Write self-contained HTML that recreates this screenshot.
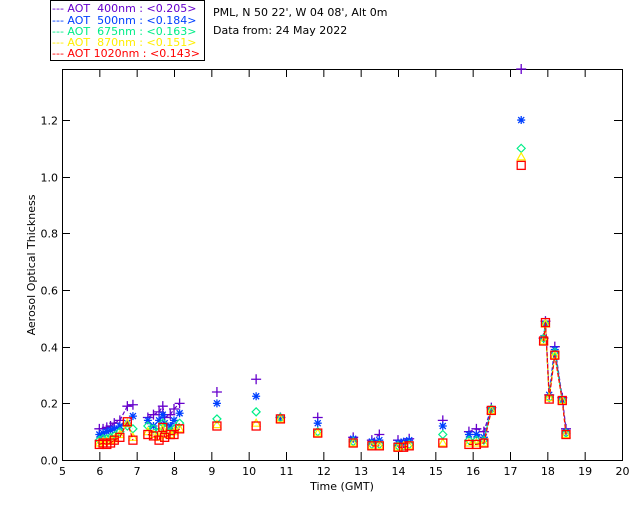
<!DOCTYPE html>
<html><head><meta charset="utf-8"><style>
body{margin:0;background:#fff;}
svg text{font-family:"DejaVu Sans","Liberation Sans",sans-serif;font-size:11px;}
</style></head><body>
<svg id="c" width="640" height="512">
<rect x="50.5" y="0.5" width="154" height="60" fill="#fff" stroke="#000"/>
<g font-size="11">
<text x="52" y="12" fill="#6600cc">--- AOT &#160;400nm : &lt;0.205&gt;</text>
<text x="52" y="24" fill="#0040ff">--- AOT &#160;500nm : &lt;0.184&gt;</text>
<text x="52" y="35" fill="#00ee88">--- AOT &#160;675nm : &lt;0.163&gt;</text>
<text x="52" y="46" fill="#ffee00">--- AOT &#160;870nm : &lt;0.151&gt;</text>
<text x="52" y="57" fill="#ff0000">--- AOT 1020nm : &lt;0.143&gt;</text>
</g>
<text x="213" y="16">PML, N 50 22', W 04 08', Alt 0m</text>
<text x="213" y="34">Data from: 24 May 2022</text>
<text transform="translate(35,265) rotate(-90)" text-anchor="middle" font-size="10">Aerosol Optical Thickness</text>
<text x="342" y="490" text-anchor="middle">Time (GMT)</text>
<g id="axes"></g>
<g id="marks"></g>
</svg>
<script>
const times=[6.0,6.1,6.2,6.3,6.4,6.55,6.75,6.9, 7.3,7.45,7.6,7.7,7.75,7.9,8.0,8.15, 9.15,10.2,10.85,11.85,12.8,13.3,13.5,14.0,14.15,14.3,15.2,15.9,16.1,16.3,16.5,17.3,17.9,17.95,18.05,18.2,18.4,18.5];
const aot400=[0.11,0.11,0.115,0.12,0.13,0.14,0.19,0.195, 0.15,0.16,0.17,0.19,0.15,0.16,0.18,0.20, 0.24,0.285,0.15,0.15,0.08,0.07,0.09,0.07,0.06,0.075,0.14,0.10,0.11,0.10,0.185,1.38,0.43,0.49,0.23,0.40,0.22,0.11];
const aot500=[0.09,0.095,0.10,0.105,0.11,0.12,0.13,0.155, 0.14,0.12,0.14,0.16,0.13,0.12,0.14,0.165, 0.20,0.225,0.15,0.13,0.075,0.065,0.07,0.06,0.065,0.07,0.12,0.09,0.09,0.08,0.18,1.20,0.43,0.48,0.23,0.39,0.21,0.10];
const aot675=[0.07,0.075,0.075,0.08,0.085,0.10,0.12,0.11, 0.12,0.11,0.10,0.13,0.11,0.10,0.11,0.13, 0.145,0.17,0.15,0.10,0.065,0.055,0.055,0.05,0.05,0.055,0.09,0.07,0.07,0.07,0.18,1.10,0.43,0.48,0.22,0.38,0.21,0.095];
const aot870=[0.06,0.065,0.065,0.07,0.075,0.09,0.13,0.08, 0.10,0.09,0.08,0.11,0.09,0.09,0.10,0.11, 0.125,0.13,0.145,0.095,0.06,0.05,0.05,0.045,0.05,0.05,0.06,0.06,0.06,0.06,0.175,1.07,0.42,0.48,0.22,0.37,0.21,0.09];
const aot1020=[0.055,0.06,0.055,0.06,0.07,0.08,0.135,0.07, 0.09,0.085,0.07,0.115,0.08,0.09,0.09,0.11, 0.12,0.12,0.145,0.095,0.06,0.05,0.05,0.045,0.045,0.05,0.06,0.055,0.055,0.06,0.175,1.04,0.42,0.485,0.215,0.37,0.21,0.09];
const xTicks=[5,6,7,8,9,10,11,12,13,14,15,16,17,18,19,20];
const yTicks=[0,0.2,0.4,0.6,0.8,1.0,1.2];
const L=62,R=622,T=69,B=460,ymax=(B-T)/283.3;
const xs=t=>L+(t-5)/15*(R-L);
const ys=v=>B-v/ymax*(B-T);
const NS='http://www.w3.org/2000/svg';
function mk(tag,attrs,parent){const e=document.createElementNS(NS,tag);for(const k in attrs)e.setAttribute(k,attrs[k]);parent.appendChild(e);return e;}
const ax=document.getElementById('axes'),mg=document.getElementById('marks');
const frame=mk('rect',{x:L+.5,y:T+.5,width:R-L,height:B-T,fill:'none',stroke:'#000'},ax);


xTicks.forEach(t=>{const x=xs(t)+.5;
 const l=mk('line',{x1:x,x2:x,y1:B,y2:B-8,stroke:'#000'},ax);
 
 
 mk('line',{x1:x,x2:x,y1:T,y2:T+8,stroke:'#000'},ax);
 const tx=mk('text',{x:x,y:B+15,'text-anchor':'middle'},ax);tx.textContent=t;
 
 });
yTicks.forEach(v=>{const y=Math.round(ys(v))+.5;
 const l=mk('line',{x1:L,x2:L+8,y1:y,y2:y,stroke:'#000'},ax);
 
 
 mk('line',{x1:R-8,x2:R,y1:y,y2:y,stroke:'#000'},ax);
 const tx=mk('text',{x:L-4,y:y+4,'text-anchor':'end'},ax);tx.textContent=v.toFixed(1);
 
 });
const series=[[aot400,'#6600cc','plus'],[aot500,'#0040ff','star'],[aot675,'#00ee88','diamond'],[aot870,'#ffee00','tri'],[aot1020,'#ff0000','square']];
series.forEach(([vals,col,m],si)=>{
 for(let i=1;i<times.length;i++){if(times[i]-times[i-1]<=0.36){
  const ln=mk('line',{x1:xs(times[i-1]),y1:Math.max(T,ys(vals[i-1])),x2:xs(times[i]),y2:Math.max(T,ys(vals[i])),stroke:col,'stroke-width':1.2,'stroke-dasharray':'4,2'},mg);
  
  }}
 times.forEach((t,i)=>{const x=xs(t),y=ys(vals[i]);if(y<T)return;let e;
  if(m==='plus')e=mk('path',{d:`M${x-5},${y}H${x+5}M${x},${y-5}V${y+5}`,stroke:col,'stroke-width':1.3,fill:'none'},mg);
  else if(m==='star')e=mk('path',{d:`M${x-4},${y}H${x+4}M${x},${y-4}V${y+4}M${x-3},${y-3}L${x+3},${y+3}M${x-3},${y+3}L${x+3},${y-3}`,stroke:col,'stroke-width':1.3,fill:'none'},mg);
  else if(m==='diamond')e=mk('path',{d:`M${x},${y-4}L${x+4},${y}L${x},${y+4}L${x-4},${y}Z`,stroke:col,'stroke-width':1.2,fill:'none'},mg);
  else if(m==='tri')e=mk('path',{d:`M${x},${y-4}L${x+4},${y+3}L${x-4},${y+3}Z`,stroke:col,'stroke-width':1.2,fill:'none'},mg);
  else e=mk('rect',{x:x-4,y:y-4,width:8,height:8,stroke:col,'stroke-width':1.3,fill:'none'},mg);
  
  });
});
</script>
</body></html>
